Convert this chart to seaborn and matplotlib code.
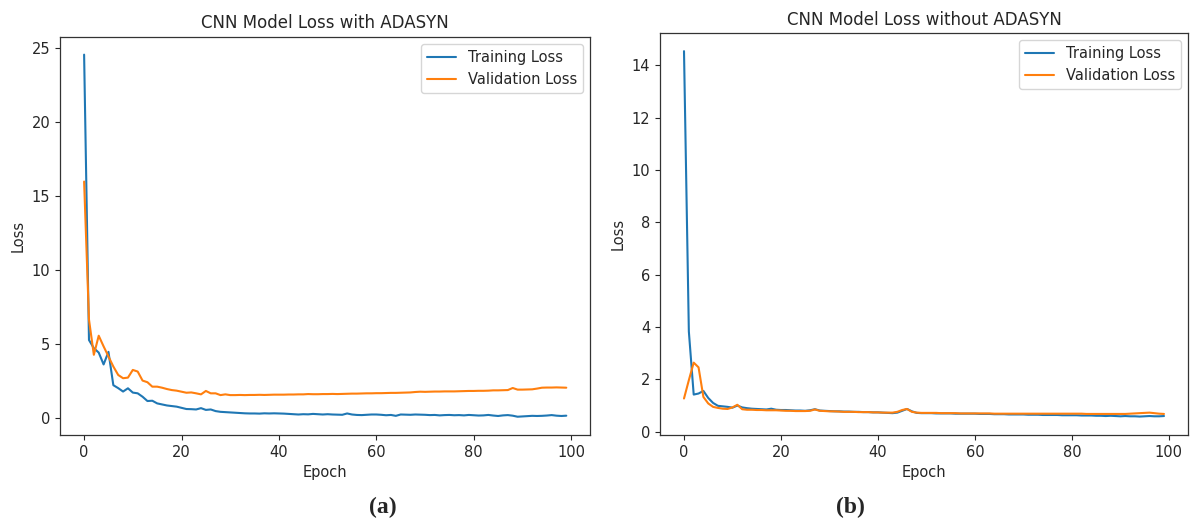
import numpy as np
import pandas as pd
import matplotlib
matplotlib.use("Agg")
import matplotlib.pyplot as plt
import seaborn as sns

# Loss curves (100 epochs each)
epochs = list(range(100))

adasyn_train = [
    24.57, 5.30, 4.75, 4.45, 3.65, 4.50, 2.25, 2.05, 1.82, 2.04,
    1.75, 1.70, 1.47, 1.18, 1.20, 1.02, 0.95, 0.88, 0.84, 0.80,
    0.72, 0.64, 0.63, 0.61, 0.70, 0.58, 0.61, 0.50, 0.45, 0.43,
    0.41, 0.39, 0.37, 0.35, 0.34, 0.34, 0.33, 0.35, 0.34, 0.35,
    0.34, 0.33, 0.31, 0.29, 0.27, 0.29, 0.28, 0.31, 0.29, 0.27,
    0.29, 0.27, 0.26, 0.25, 0.34, 0.27, 0.24, 0.23, 0.25, 0.27,
    0.27, 0.25, 0.22, 0.24, 0.18, 0.27, 0.26, 0.25, 0.27, 0.26,
    0.25, 0.23, 0.24, 0.21, 0.23, 0.24, 0.22, 0.23, 0.21, 0.24,
    0.22, 0.20, 0.21, 0.24, 0.20, 0.17, 0.21, 0.23, 0.19, 0.12,
    0.14, 0.16, 0.18, 0.17, 0.18, 0.20, 0.23, 0.19, 0.17, 0.19,
]
adasyn_val = [
    16.00, 6.68, 4.30, 5.59, 4.87, 4.19, 3.51, 2.94, 2.72, 2.76,
    3.28, 3.17, 2.56, 2.45, 2.15, 2.15, 2.08, 1.99, 1.92, 1.88,
    1.81, 1.74, 1.76, 1.70, 1.63, 1.86, 1.70, 1.70, 1.58, 1.63,
    1.58, 1.58, 1.59, 1.58, 1.59, 1.59, 1.60, 1.59, 1.60, 1.61,
    1.61, 1.61, 1.62, 1.62, 1.63, 1.63, 1.65, 1.64, 1.64, 1.65,
    1.65, 1.66, 1.65, 1.66, 1.67, 1.68, 1.68, 1.69, 1.70, 1.70,
    1.71, 1.71, 1.72, 1.73, 1.73, 1.74, 1.75, 1.76, 1.79, 1.81,
    1.80, 1.81, 1.82, 1.82, 1.83, 1.83, 1.83, 1.84, 1.85, 1.86,
    1.86, 1.87, 1.87, 1.88, 1.90, 1.90, 1.91, 1.92, 2.06, 1.95,
    1.95, 1.96, 1.97, 2.02, 2.08, 2.09, 2.09, 2.10, 2.09, 2.08,
]
plain_train = [
    14.54, 3.83, 1.42, 1.46, 1.56, 1.29, 1.10, 0.99, 0.97, 0.95,
    0.92, 1.00, 0.93, 0.90, 0.88, 0.87, 0.86, 0.85, 0.88, 0.84,
    0.83, 0.83, 0.82, 0.81, 0.81, 0.80, 0.82, 0.86, 0.81, 0.80,
    0.79, 0.78, 0.78, 0.77, 0.77, 0.76, 0.76, 0.75, 0.75, 0.74,
    0.74, 0.73, 0.72, 0.71, 0.73, 0.80, 0.87, 0.78, 0.72, 0.71,
    0.71, 0.71, 0.70, 0.70, 0.70, 0.70, 0.69, 0.69, 0.69, 0.69,
    0.69, 0.68, 0.68, 0.68, 0.67, 0.67, 0.67, 0.66, 0.66, 0.66,
    0.66, 0.65, 0.65, 0.65, 0.64, 0.64, 0.64, 0.64, 0.63, 0.63,
    0.63, 0.63, 0.62, 0.62, 0.62, 0.61, 0.61, 0.60, 0.61, 0.60,
    0.59, 0.60, 0.59, 0.59, 0.58, 0.59, 0.60, 0.59, 0.59, 0.60,
]
plain_val = [
    1.27, 1.97, 2.64, 2.46, 1.33, 1.08, 0.95, 0.91, 0.88, 0.87,
    0.93, 1.03, 0.86, 0.84, 0.84, 0.83, 0.83, 0.82, 0.82, 0.82,
    0.81, 0.80, 0.80, 0.79, 0.79, 0.79, 0.80, 0.85, 0.80, 0.79,
    0.78, 0.78, 0.77, 0.76, 0.76, 0.76, 0.75, 0.75, 0.75, 0.74,
    0.74, 0.73, 0.73, 0.73, 0.76, 0.83, 0.87, 0.76, 0.73, 0.72,
    0.72, 0.72, 0.72, 0.71, 0.71, 0.71, 0.71, 0.70, 0.70, 0.70,
    0.70, 0.70, 0.70, 0.70, 0.69, 0.69, 0.69, 0.69, 0.69, 0.69,
    0.69, 0.69, 0.69, 0.69, 0.69, 0.69, 0.69, 0.69, 0.69, 0.69,
    0.69, 0.69, 0.69, 0.68, 0.68, 0.68, 0.68, 0.68, 0.68, 0.68,
    0.68, 0.68, 0.69, 0.70, 0.71, 0.72, 0.73, 0.71, 0.69, 0.68,
]

titles = ["CNN Model Loss with ADASYN", "CNN Model Loss without ADASYN"]
captions = ["(a)", "(b)"]

sns.set_style("ticks")
plt.rcParams['font.family'] = ['DejaVu Sans']
plt.rcParams['font.size'] = 10.5

fig = plt.figure(figsize=(12, 5.22), dpi=100)
ax_a = fig.add_axes([0.050, 0.167, 0.442, 0.763])
ax_b = fig.add_axes([0.550, 0.167, 0.440, 0.770])

panels = [
    (ax_a, adasyn_train, adasyn_val),
    (ax_b, plain_train, plain_val),
]

blue, orange = sns.color_palette("tab10")[:2]

for i, (ax, train, val) in enumerate(panels):
    df = pd.DataFrame({'Epoch': epochs, 'train': train, 'val': val})
    sns.lineplot(data=df, x='Epoch', y='train', color=blue, linewidth=1.5,
                 label='Training Loss', ax=ax)
    sns.lineplot(data=df, x='Epoch', y='val', color=orange, linewidth=1.5,
                 label='Validation Loss', ax=ax)
    ax.set_title(titles[i], fontsize=12)
    ax.set_xlabel('Epoch', fontsize=10.5)
    ax.set_ylabel('Loss', fontsize=10.5)
    ax.set_xticks([0, 20, 40, 60, 80, 100])
    ax.tick_params(labelsize=10.5)
    for s in ax.spines.values():
        s.set_color('#333333')
        s.set_linewidth(0.9)
    ax.legend(loc='upper right', fontsize=10.5)

fig.text(0.319, 0.027, captions[0], ha='center', va='center',
         family=['Liberation Serif', 'DejaVu Serif'], fontweight='bold', fontsize=17)
fig.text(0.709, 0.027, captions[1], ha='center', va='center',
         family=['Liberation Serif', 'DejaVu Serif'], fontweight='bold', fontsize=17)

fig.savefig('out.png', dpi=100)
